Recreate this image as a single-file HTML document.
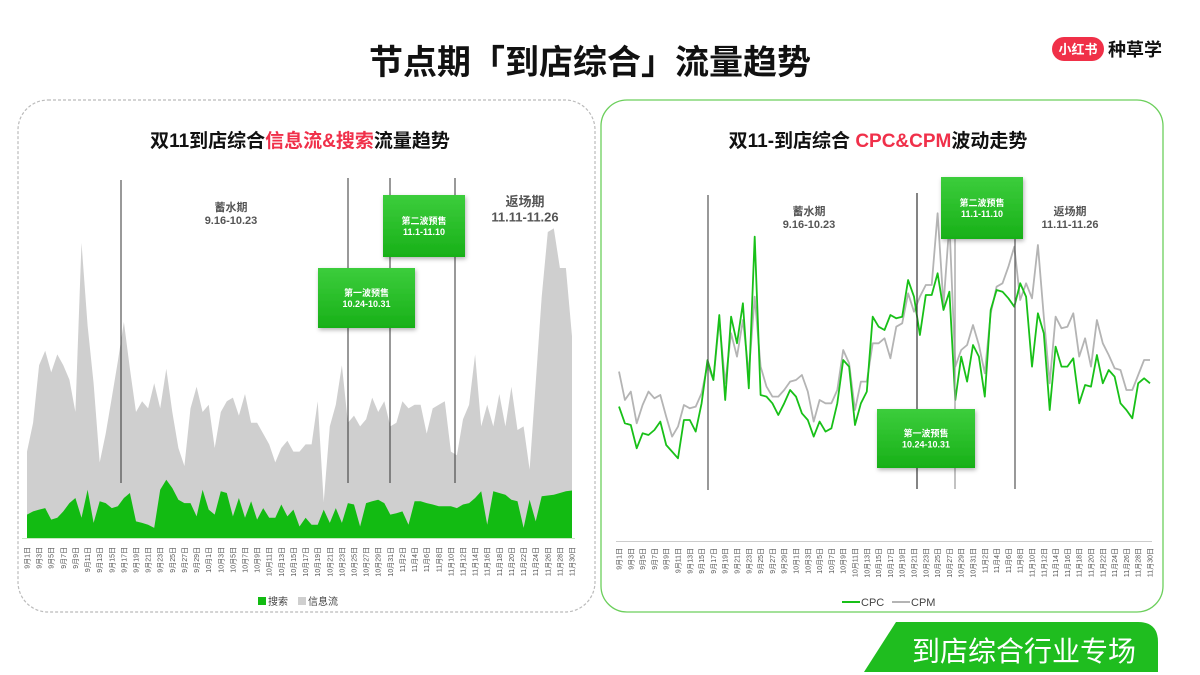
<!DOCTYPE html>
<html><head><meta charset="utf-8">
<style>
html,body{margin:0;padding:0;background:#fff;}
svg{display:block;font-family:"Liberation Sans","Noto Sans CJK SC",sans-serif;}
</style></head>
<body>
<svg id="s" width="1200" height="675" viewBox="0 0 1200 675" xmlns="http://www.w3.org/2000/svg">
<defs>
<linearGradient id="gb" x1="0" y1="0" x2="0" y2="1"><stop offset="0" stop-color="#3ccd3c"/><stop offset="1" stop-color="#18b018"/></linearGradient>
<filter id="sh" x="-20%" y="-20%" width="140%" height="140%"><feDropShadow dx="1" dy="2" stdDeviation="2" flood-color="#000" flood-opacity="0.3"/></filter>
</defs>
<text x="590" y="74" text-anchor="middle" font-size="34" font-weight="bold" fill="#111">节点期「到店综合」流量趋势</text>
<g>
<rect x="1052" y="37" width="52" height="24" rx="12" fill="#f03048"/>
<text x="1078" y="54" text-anchor="middle" font-size="13" font-weight="bold" fill="#fff">小红书</text>
<text x="1108" y="56" font-size="18" font-weight="bold" fill="#111">种草学</text>
</g>
<rect x="18" y="100" width="577" height="512" rx="30" fill="none" stroke="#bbb" stroke-dasharray="3,2" stroke-width="1.2"/>
<rect x="601" y="100" width="562" height="512" rx="26" fill="none" stroke="#6ccf5c" stroke-width="1.3"/>
<text x="300" y="147" text-anchor="middle" font-size="19" font-weight="bold" fill="#111">双11到店综合<tspan fill="#f0304a">信息流&amp;搜索</tspan>流量趋势</text>
<text x="878" y="147" text-anchor="middle" font-size="19" font-weight="bold" fill="#111">双11-到店综合 <tspan fill="#f0304a">CPC&amp;CPM</tspan>波动走势</text>
<g id="left"></g>
<g id="right"></g>
<g>
<path d="M864,672 L896,622 L1138,622 Q1158,622 1158,642 L1158,672 Z" fill="#1fbd1f"/>
<text x="1024" y="661" text-anchor="middle" font-size="28" fill="#fff">到店综合行业专场</text>
</g>
</svg>
<script>
const dates=[];
(function(){const m=[[9,30],[10,31],[11,30]];for(const [mm,n] of m)for(let d=1;d<=n;d++)dates.push(mm+'月'+d+'日');})();
const feedValues=[24,32,48,52,46,51,48,44,35,82,59,43,21,29,39,49,60,47,35,38,36,43,36,47,35,25,20,36,42,35,37,25,35,38,39,34,40,32,32,29,26,21,25,27,24,24,26,26,38,10,31,37,48,32,34,31,33,39,35,38,31,32,38,36,37,37,29,36,37,38,24,23,33,37,51,31,37,31,40,31,42,30,31,19,43,67,85,86,75,75,56];
const searchValues=[6.5,7.4,7.9,8.3,5.1,5.6,7.4,9.7,11.1,5.6,13.4,4.2,10.2,9.7,8.3,8.8,11.1,12.5,4.6,4.2,3.7,2.8,13.4,16.2,13.9,10.6,9.7,9.7,6,13.4,7.9,6.5,13,12.5,6,11.1,5.6,10.2,5.1,8.3,5.6,5.6,9.3,6,7.9,3.2,5.6,3.7,3.7,7.9,4.2,8.3,4.2,9.7,9.3,3.2,9.7,10.2,10.6,9.7,6.5,6.9,7.4,3.7,10.2,10.2,9.7,9.3,8.8,8.8,8.8,8.3,9.3,9.7,11.1,13,3.7,13,12.5,12,10.6,10.2,2.8,10.6,4.6,11.6,11.8,12,12.5,13,13.2];
const cpcValues=[29,24,23.5,16.5,21,20.5,22,24.5,17.5,15.5,13.5,25,25,21.5,30,43,37,56.5,31,56,48,60,34.5,80,32.5,32,30,26.5,30,34,32,27,25,20,24.5,21.5,22.5,30,43,41,23.5,30,33.5,56,53,52,56.5,55.5,56,67,62,50.5,62.5,62.5,69,58,63.5,31,44,36.5,47.5,44,32,58,64,63.5,61.5,59,66,62,41,57,51,28,47,41,41,43.5,30,35.5,35,44.5,36,40,38,30,28,25.5,36,37.5,36];
const cpmValues=[39.5,31,33.5,24,29.5,33.5,31.5,32.5,26,20,23,29.5,28.5,29,33,41.5,37,55,36,51,44,55,39,62,41,35,32,32,34,36.5,37,38.5,33.5,24.5,31,30,30,34,46,42,28,36.5,36.5,48,48,49.5,43.5,53,54,63,57.5,62,65.5,65.5,87,59.5,84,41,46,47.5,53.5,47.5,39,57,65,66,71,77,61,66,61.5,77.5,56,36,56,52.5,53,57,44,49.5,41,55,48,44.5,40.5,40,34,34,38.5,43,43];
const NS='http://www.w3.org/2000/svg';
function mk(tag,attrs,parent){const e=document.createElementNS(NS,tag);for(const k in attrs)e.setAttribute(k,attrs[k]);parent.appendChild(e);return e;}
function lin(d0,d1,r0,r1){return v=>r0+(v-d0)*(r1-r0)/(d1-d0);}

// LEFT
const L=document.getElementById('left');
const lx=lin(0,dates.length-1,27,572), ly=lin(0,100,538,178);
function area(vals,fill,name){let d='M'+lx(0)+','+ly(0);vals.forEach((v,i)=>d+=' L'+lx(i).toFixed(1)+','+ly(v).toFixed(1));d+=' L'+lx(vals.length-1)+','+ly(0)+' Z';
const p=mk('path',{d:d,fill:fill},L);

}
area(feedValues,'#cfcfcf','feed-area');
area(searchValues,'#12bb12','search-area');
const lAxis=mk('line',{x1:22,x2:575,y1:538.5,y2:538.5,stroke:'#c8e8c0','stroke-width':1},L);


const lLines=[[121,180,483],[348,178,483],[390,178,483],[455,178,483]];
lLines.forEach(a=>{const ln=mk('line',{x1:a[0],x2:a[0],y1:a[1],y2:a[2],stroke:'#333','stroke-width':1},L);

});
dates.forEach((dt,i)=>{if(i%2)return;const t=mk('text',{x:0,y:0,transform:'translate('+(lx(i)+2.5)+',547) rotate(-90)','text-anchor':'end','font-size':7,fill:'#555'},L);t.textContent=dt;

});
function label(g,x,y,lines,size,name){const t=mk('text',{x:x,y:y,'text-anchor':'middle','font-size':size,'font-weight':'bold',fill:'#555'},g);lines.forEach((s,j)=>{const ts=mk('tspan',{x:x,dy:j?size*1.2:0},t);ts.textContent=s;});

}
function box(g,x,y,w,h,lines,name){const r=mk('rect',{x:x,y:y,width:w,height:h,fill:'url(#gb)',filter:'url(#sh)'},g);


const t=mk('text',{x:x+w/2,y:y+h/2-2,'text-anchor':'middle','font-size':9,'font-weight':'bold',fill:'#fff'},g);lines.forEach((s,j)=>{const ts=mk('tspan',{x:x+w/2,dy:j?11:0},t);ts.textContent=s;});

}
label(L,231,211,['蓄水期','9.16-10.23'],11,'left-storage-phase-label');
label(L,525,206,['返场期','11.11-11.26'],13,'left-return-phase-label');
box(L,318,268,97,60,['第一波预售','10.24-10.31'],'left-presale1-box');
box(L,383,195,82,62,['第二波预售','11.1-11.10'],'left-presale2-box');
const lg1=mk('rect',{x:258,y:597,width:8,height:8,fill:'#12bb12'},L);


let tt=mk('text',{x:268,y:605,'font-size':10,fill:'#444'},L);tt.textContent='搜索';


const lg2=mk('rect',{x:298,y:597,width:8,height:8,fill:'#cfcfcf'},L);


tt=mk('text',{x:308,y:605,'font-size':10,fill:'#444'},L);tt.textContent='信息流';



// RIGHT
const R=document.getElementById('right');
const rx=lin(0,dates.length-1,619,1150), ry=lin(0,100,503.3,170);
const rAxis=mk('line',{x1:616,x2:1152,y1:541.5,y2:541.5,stroke:'#ccc','stroke-width':1},R);


function line(vals,col,name){const d=vals.map((v,i)=>(i?'L':'M')+rx(i).toFixed(1)+','+ry(v).toFixed(1)).join(' ');
const p=mk('path',{d:d,fill:'none',stroke:col,'stroke-width':1.8,'stroke-linejoin':'round'},R);

}
line(cpmValues,'#b4b4b4','cpm-line');
line(cpcValues,'#18c018','cpc-line');
const rLines=[[708,195,490,'#555'],[917,193,489,'#333'],[955,193,489,'#999'],[1015,193,489,'#555']];
rLines.forEach(a=>{const ln=mk('line',{x1:a[0],x2:a[0],y1:a[1],y2:a[2],stroke:a[3],'stroke-width':1.2},R);

});
dates.forEach((dt,i)=>{if(i%2)return;const t=mk('text',{x:0,y:0,transform:'translate('+(rx(i)+2.5)+',548) rotate(-90)','text-anchor':'end','font-size':7,fill:'#555'},R);t.textContent=dt;

});
label(R,809,215,['蓄水期','9.16-10.23'],11,'right-storage-phase-label');
label(R,1070,215,['返场期','11.11-11.26'],11,'right-return-phase-label');
box(R,877,409,98,59,['第一波预售','10.24-10.31'],'right-presale1-box');
box(R,941,177,82,62,['第二波预售','11.1-11.10'],'right-presale2-box');
const rl1=mk('line',{x1:842,x2:860,y1:602,y2:602,stroke:'#18c018','stroke-width':2},R);


tt=mk('text',{x:861,y:606,'font-size':11,fill:'#444'},R);tt.textContent='CPC';


const rl2=mk('line',{x1:892,x2:910,y1:602,y2:602,stroke:'#b4b4b4','stroke-width':2},R);


tt=mk('text',{x:911,y:606,'font-size':11,fill:'#444'},R);tt.textContent='CPM';


</script>
</body></html>
